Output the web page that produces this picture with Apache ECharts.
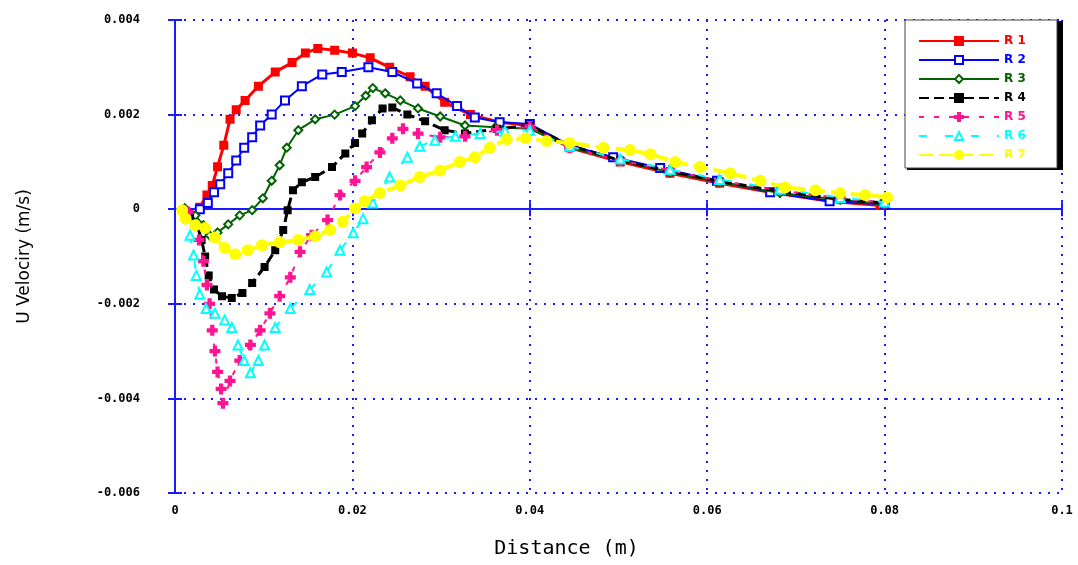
<!DOCTYPE html>
<html>
<head>
<meta charset="utf-8">
<script src="https://cdn.jsdelivr.net/npm/echarts@6/dist/echarts.min.js"></script>
<style>html,body{margin:0;padding:0;background:#fff}#c{width:1078px;height:565px}</style>
</head>
<body>
<div id="c"></div>
<script>
const seriesNames = ['R 1','R 2','R 3','R 4','R 5','R 6','R 7'];
const xTicks = [0, 0.02, 0.04, 0.06, 0.08, 0.1];
const yTicks = [-0.006, -0.004, -0.002, 0, 0.002, 0.004];

const r1 = [[0.0028,0.00004],[0.0036,0.0003],[0.0042,0.0005],[0.0048,0.0009],[0.0055,0.00135],[0.0062,0.0019],[0.0069,0.0021],[0.0079,0.0023],[0.0094,0.0026],[0.0113,0.0029],[0.0132,0.0031],[0.0147,0.0033],[0.0161,0.0034],[0.0180,0.00336],[0.0200,0.0033],[0.0220,0.0032],[0.0242,0.0030],[0.0265,0.0028],[0.0282,0.0026],[0.0304,0.00226],[0.0333,0.0020],[0.0366,0.00184],[0.0400,0.00177],[0.0445,0.0013],[0.0502,0.0010],[0.0558,0.00076],[0.0614,0.00055],[0.0671,0.00036],[0.0738,0.00017],[0.0795,0.00008]];
const r2 = [[0.0028,0.0],[0.0037,0.00013],[0.0044,0.00036],[0.0051,0.00053],[0.0060,0.00076],[0.0069,0.00103],[0.0078,0.0013],[0.0087,0.00152],[0.0096,0.00177],[0.0109,0.0020],[0.0124,0.0023],[0.0143,0.0026],[0.0166,0.00285],[0.0188,0.0029],[0.0218,0.0030],[0.0245,0.0029],[0.0273,0.00266],[0.0295,0.00245],[0.0318,0.00218],[0.0338,0.00194],[0.0366,0.00184],[0.0400,0.0018],[0.0445,0.00135],[0.0494,0.0011],[0.0547,0.00087],[0.0611,0.0006],[0.0671,0.00036],[0.0738,0.00017],[0.0800,0.0001]];
const r3 = [[0.0011,0.00002],[0.0023,-0.00013],[0.0032,-0.00034],[0.0039,-0.00055],[0.0048,-0.00049],[0.0060,-0.00032],[0.0073,-0.00013],[0.0087,-0.00002],[0.0099,0.00023],[0.0109,0.0006],[0.0118,0.00093],[0.0126,0.0013],[0.0139,0.00167],[0.0158,0.0019],[0.0180,0.0020],[0.0203,0.00218],[0.0215,0.0024],[0.0223,0.00256],[0.0237,0.00245],[0.0254,0.0023],[0.0274,0.00213],[0.0299,0.00196],[0.0327,0.00177],[0.0361,0.00173],[0.0400,0.0017],[0.0445,0.0013],[0.0502,0.00103],[0.0558,0.00078],[0.0614,0.00057],[0.0682,0.00034],[0.0750,0.0002],[0.0800,0.0001]];
const r4 = [[0.0017,-0.00013],[0.0025,-0.00034],[0.0030,-0.00065],[0.0034,-0.001],[0.0038,-0.0014],[0.0044,-0.0017],[0.0053,-0.00184],[0.0064,-0.00188],[0.0076,-0.00177],[0.0087,-0.00156],[0.0101,-0.00122],[0.0113,-0.00087],[0.0122,-0.00044],[0.0127,-0.00002],[0.0133,0.0004],[0.0143,0.00057],[0.0158,0.00068],[0.0177,0.00089],[0.0192,0.00118],[0.0203,0.0014],[0.0211,0.0016],[0.0222,0.00188],[0.0234,0.00213],[0.0245,0.00215],[0.0262,0.0020],[0.0282,0.00186],[0.0304,0.00167],[0.0327,0.0016],[0.0363,0.0017],[0.0400,0.00177],[0.0445,0.00135],[0.0502,0.00103],[0.0558,0.0008],[0.0614,0.00059],[0.0682,0.00038],[0.0750,0.00021],[0.0800,0.00013]];
const r5 = [[0.0015,-0.00006],[0.0023,-0.00034],[0.0027,-0.00065],[0.0032,-0.0011],[0.0036,-0.0016],[0.0039,-0.0020],[0.0042,-0.00256],[0.0045,-0.0030],[0.0048,-0.00344],[0.0052,-0.0038],[0.0054,-0.0041],[0.0062,-0.00363],[0.0073,-0.0032],[0.0085,-0.00287],[0.0096,-0.00256],[0.0107,-0.0022],[0.0118,-0.00184],[0.0130,-0.00144],[0.0141,-0.0009],[0.0154,-0.00055],[0.0172,-0.00023],[0.0186,0.0003],[0.0203,0.0006],[0.0216,0.00089],[0.0231,0.0012],[0.0245,0.0015],[0.0257,0.0017],[0.0274,0.0016],[0.0299,0.00152],[0.0327,0.00154],[0.0363,0.00167],[0.0400,0.00175],[0.0445,0.0013],[0.0502,0.00103],[0.0558,0.00082],[0.0614,0.0006],[0.0682,0.0004],[0.0750,0.00023],[0.0800,0.00013]];
const r6 = [[0.0017,-0.00055],[0.0021,-0.00097],[0.0024,-0.0014],[0.0028,-0.0018],[0.0035,-0.0021],[0.0045,-0.0022],[0.0056,-0.00234],[0.0064,-0.0025],[0.0071,-0.00287],[0.0078,-0.0032],[0.0085,-0.00346],[0.0094,-0.0032],[0.0101,-0.00287],[0.0113,-0.0025],[0.0130,-0.0021],[0.0152,-0.0017],[0.0171,-0.00133],[0.0186,-0.00087],[0.0201,-0.0005],[0.0212,-0.0002],[0.0223,0.00013],[0.0242,0.00068],[0.0262,0.0011],[0.0276,0.00133],[0.0293,0.00146],[0.0316,0.00154],[0.0344,0.0016],[0.0372,0.00165],[0.0400,0.00167],[0.0445,0.00133],[0.0502,0.00106],[0.0558,0.00084],[0.0614,0.00063],[0.0682,0.00042],[0.0750,0.00025],[0.0800,0.00015]];
const r7 = [[0.0008,-0.00002],[0.0012,-0.0002],[0.0023,-0.00034],[0.0034,-0.0004],[0.0045,-0.0006],[0.0056,-0.00082],[0.0068,-0.00095],[0.0082,-0.00087],[0.0098,-0.00076],[0.0118,-0.0007],[0.0139,-0.00065],[0.0158,-0.00057],[0.0175,-0.00044],[0.0189,-0.00027],[0.0203,0.00002],[0.0214,0.00017],[0.0231,0.00034],[0.0254,0.0005],[0.0276,0.00068],[0.0299,0.00082],[0.0321,0.0010],[0.0338,0.0011],[0.0355,0.0013],[0.0374,0.00148],[0.0395,0.0015],[0.0419,0.00144],[0.0445,0.0014],[0.0483,0.0013],[0.0513,0.00125],[0.0536,0.00116],[0.0564,0.0010],[0.0592,0.00089],[0.0626,0.00076],[0.0660,0.0006],[0.0688,0.00046],[0.0722,0.0004],[0.0750,0.00034],[0.0778,0.0003],[0.0803,0.00025]];

const seriesData = [r1, r2, r3, r4, r5, r6, r7];
const colors = ['#ff0000','#0000ff','#006400','#000000','#ff1493','#00ffff','#ffff00'];
const plusPath = 'path://M3,0H5V3H8V5H5V8H3V5H0V3H3Z';
const styles = [
  {symbol:'rect', size:7, width:3, type:'solid'},
  {symbol:'emptyRect', size:8, width:2, type:'solid'},
  {symbol:'emptyDiamond', size:8, width:2, type:'solid'},
  {symbol:'rect', size:6, width:3, type:[10,5]},
  {symbol:plusPath, size:9, width:2, type:[5,10]},
  {symbol:'emptyTriangle', size:9, width:2, type:[8,18]},
  {symbol:'circle', size:10, width:4, type:[14,6]}
];

const fmt = v => String(Math.round(v * 1000) / 1000);
const blue = '#1a1aff';
const labelFont = {color:'#000', fontSize:12, fontWeight:'bold', fontFamily:'DejaVu Sans Mono'};

const chart = echarts.init(document.getElementById('c'), null, {renderer:'canvas'});
chart.setOption({
  animation: false,
  backgroundColor: '#fff',
  grid: {left:175, right:16, top:20, bottom:72, containLabel:false},
  graphic: [
    {type:'rect', z:10, shape:{x:907, y:21, width:156, height:149}, style:{fill:'#000'}},
    {type:'rect', z:11, shape:{x:905, y:20, width:152, height:148}, style:{fill:'#fff', stroke:'#444', lineWidth:1}}
  ],
  legend: {
    z:20,
    orient:'vertical', left:905, top:20, width:152,
    padding:[14,10,12,13], itemWidth:80, itemHeight:10, itemGap:5,
    data: seriesNames.map((n,i)=>({name:n, textStyle:{color:colors[i]}})),
    textStyle:{fontSize:12, fontWeight:'bold', fontFamily:'DejaVu Sans', lineHeight:14}
  },
  xAxis: [{
    type:'value', min:0, max:0.1, interval:0.02, position:'bottom',
    name:'Distance (m)', nameLocation:'middle', nameGap:46,
    nameTextStyle:{fontSize:20, color:'#000', fontFamily:'DejaVu Sans Mono', padding:[0,104,0,0]},
    axisLine:{show:true, lineStyle:{color:blue, width:2}},
    axisTick:{show:true, inside:true, length:7, lineStyle:{color:blue, width:2}},
    axisLabel:Object.assign({margin:12, formatter:fmt}, labelFont),
    splitLine:{show:true, lineStyle:{color:blue, width:2, type:[2,7]}}
  },{
    type:'value', min:0, max:0.1, interval:0.02, position:'top',
    axisLine:{show:true, lineStyle:{color:blue, width:2}},
    axisTick:{show:true, inside:true, length:7, lineStyle:{color:blue, width:2}},
    axisLabel:{show:false}, splitLine:{show:false}
  }],
  yAxis: [{
    type:'value', min:-0.006, max:0.004, interval:0.002, position:'left',
    name:'U Velociry (m/s)', nameLocation:'middle', nameGap:142, nameRotate:90,
    nameTextStyle:{fontSize:17, color:'#000', fontFamily:'DejaVu Sans'},
    axisLine:{show:true, lineStyle:{color:blue, width:2}},
    axisTick:{show:true, inside:true, length:7, lineStyle:{color:blue, width:2}},
    axisLabel:Object.assign({margin:35, formatter:fmt}, labelFont),
    splitLine:{show:true, lineStyle:{color:blue, width:2, type:[2,7]}}
  },{
    type:'value', min:-0.006, max:0.004, interval:0.002, position:'right',
    axisLine:{show:true, lineStyle:{color:blue, width:2}},
    axisTick:{show:true, inside:true, length:7, lineStyle:{color:blue, width:2}},
    axisLabel:{show:false}, splitLine:{show:false}
  }],
  series: seriesData.map((d,i)=>({
    name: seriesNames[i], type:'line', data:d, xAxisIndex:0, yAxisIndex:0,
    symbol: styles[i].symbol, symbolSize: styles[i].size, showAllSymbol:true,
    itemStyle:{color:colors[i], borderColor:colors[i], borderWidth:2},
    lineStyle:{color:colors[i], width:styles[i].width, type:styles[i].type},
    z: 2 + i
  }))
});
</script>
</body>
</html>
